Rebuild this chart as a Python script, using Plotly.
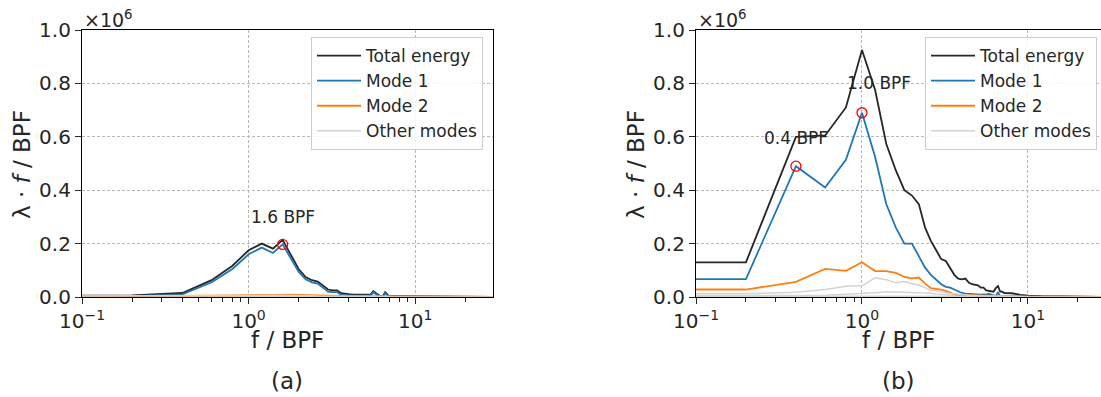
import plotly.graph_objects as go
import math

# ---------------- data (values in units of 1e6) ----------------
freq = [0.1, 0.2, 0.4, 0.6, 0.8, 1.0, 1.2, 1.4, 1.6, 1.8, 2.0, 2.2, 2.4, 2.6, 2.8,
        3.0, 3.2, 3.4, 3.6, 3.8, 4.0, 4.2, 4.4, 4.6, 4.8, 5.0, 5.2, 5.4, 5.6, 5.8,
        6.0, 6.2, 6.4, 6.6, 6.8, 7.0, 7.2, 8.0, 9.0, 10.0, 12.0, 15.0, 20.0, 30.0]

# panel (a)
a_total = [0.005, 0.006, 0.015, 0.063, 0.117, 0.175, 0.200, 0.181, 0.214, 0.154, 0.104, 0.075, 0.063, 0.058, 0.041,
           0.028, 0.025, 0.025, 0.014, 0.011, 0.011, 0.010, 0.010, 0.009, 0.009, 0.008, 0.008, 0.009, 0.022, 0.016,
           0.010, 0.002, 0.004, 0.018, 0.010, 0.001, 0.003, 0.003, 0.002, 0.002, 0.001, 0.001, 0.0005, 0.0003]
a_mode1 = [0.002, 0.003, 0.010, 0.055, 0.105, 0.160, 0.185, 0.165, 0.197, 0.140, 0.094, 0.066, 0.055, 0.050, 0.034,
           0.020, 0.018, 0.018, 0.008, 0.006, 0.006, 0.005, 0.005, 0.005, 0.004, 0.004, 0.004, 0.005, 0.017, 0.012,
           0.006, 0.000, 0.001, 0.014, 0.006, 0.000, 0.001, 0.001, 0.001, 0.001, 0.0005, 0.0003, 0.0002, 0.0001]
a_mode2 = [0.003, 0.003, 0.004, 0.005, 0.006, 0.007, 0.008, 0.009, 0.010, 0.009, 0.008, 0.007, 0.006, 0.005, 0.005,
           0.004, 0.004, 0.004, 0.003, 0.003, 0.003, 0.003, 0.003, 0.003, 0.003, 0.002, 0.002, 0.002, 0.002, 0.002,
           0.002, 0.002, 0.002, 0.002, 0.002, 0.002, 0.002, 0.001, 0.001, 0.001, 0.001, 0.001, 0.0005, 0.0003]
a_other1 = [0.004, 0.004, 0.004, 0.005, 0.005, 0.006, 0.006, 0.007, 0.007, 0.006, 0.006, 0.005, 0.005, 0.004, 0.004,
            0.004, 0.003, 0.003, 0.003, 0.003, 0.003, 0.002, 0.002, 0.002, 0.002, 0.002, 0.002, 0.002, 0.002, 0.002,
            0.002, 0.002, 0.002, 0.002, 0.002, 0.001, 0.001, 0.001, 0.001, 0.001, 0.001, 0.0005, 0.0003, 0.0002]
a_other2 = [0.002, 0.002, 0.002, 0.002, 0.003, 0.003, 0.003, 0.003, 0.004, 0.003, 0.003, 0.003, 0.003, 0.002, 0.002,
            0.002, 0.002, 0.002, 0.002, 0.002, 0.001, 0.001, 0.001, 0.001, 0.001, 0.001, 0.001, 0.001, 0.001, 0.001,
            0.001, 0.001, 0.001, 0.001, 0.001, 0.001, 0.001, 0.001, 0.0005, 0.0005, 0.0003, 0.0002, 0.0001, 0.0001]

# panel (b)
b_total = [0.130, 0.130, 0.600, 0.605, 0.710, 0.925, 0.775, 0.574, 0.474, 0.400, 0.380, 0.348, 0.260, 0.210, 0.175,
           0.142, 0.135, 0.110, 0.083, 0.069, 0.066, 0.069, 0.054, 0.048, 0.045, 0.044, 0.035, 0.035, 0.025, 0.023,
           0.023, 0.020, 0.033, 0.041, 0.020, 0.020, 0.015, 0.014, 0.008, 0.005, 0.003, 0.002, 0.001, 0.0003]
b_mode1 = [0.067, 0.067, 0.490, 0.410, 0.514, 0.690, 0.524, 0.348, 0.260, 0.200, 0.200, 0.155, 0.110, 0.083, 0.063,
           0.048, 0.038, 0.035, 0.028, 0.020, 0.015, 0.013, 0.012, 0.012, 0.010, 0.008, 0.009, 0.010, 0.009, 0.012,
           0.008, 0.006, 0.004, 0.018, 0.001, 0.004, 0.003, 0.003, 0.002, 0.002, 0.001, 0.001, 0.0005, 0.0002]
b_mode2 = [0.028, 0.028, 0.057, 0.105, 0.098, 0.130, 0.097, 0.097, 0.090, 0.075, 0.070, 0.073, 0.050, 0.033, 0.030,
           0.028, 0.023, 0.016, 0.010, 0.009, 0.008, 0.008, 0.007, 0.007, 0.006, 0.006, 0.005, 0.005, 0.005, 0.005,
           0.004, 0.004, 0.004, 0.004, 0.003, 0.003, 0.003, 0.003, 0.002, 0.002, 0.001, 0.001, 0.0005, 0.0002]
b_other1 = [0.012, 0.012, 0.018, 0.028, 0.040, 0.042, 0.072, 0.065, 0.053, 0.058, 0.050, 0.045, 0.035, 0.025, 0.022,
            0.020, 0.016, 0.013, 0.011, 0.010, 0.010, 0.008, 0.007, 0.006, 0.006, 0.005, 0.005, 0.005, 0.004, 0.004,
            0.004, 0.004, 0.003, 0.003, 0.003, 0.003, 0.003, 0.002, 0.002, 0.001, 0.001, 0.001, 0.0005, 0.0002]
b_other2 = [0.005, 0.005, 0.005, 0.007, 0.010, 0.012, 0.016, 0.020, 0.019, 0.019, 0.018, 0.016, 0.015, 0.014, 0.011,
            0.009, 0.008, 0.007, 0.006, 0.006, 0.005, 0.004, 0.004, 0.004, 0.003, 0.003, 0.003, 0.003, 0.003, 0.003,
            0.002, 0.002, 0.002, 0.002, 0.002, 0.002, 0.002, 0.002, 0.001, 0.001, 0.001, 0.0005, 0.0003, 0.0001]
b_other3 = [0.003, 0.003, 0.003, 0.003, 0.004, 0.004, 0.005, 0.005, 0.005, 0.005, 0.005, 0.004, 0.004, 0.004, 0.003,
            0.003, 0.003, 0.003, 0.002, 0.002, 0.002, 0.002, 0.002, 0.002, 0.002, 0.002, 0.002, 0.002, 0.001, 0.001,
            0.001, 0.001, 0.001, 0.001, 0.001, 0.001, 0.001, 0.001, 0.001, 0.0005, 0.0003, 0.0002, 0.0001, 0.0001]

a_peaks = [1.6]
b_peaks = [0.4, 1.0]

a_labels = [("1.6 BPF", 1.0, 0.30)]
b_labels = [("0.4 BPF", 0.25, 0.596), ("1.0 BPF", 0.79, 0.80)]

x_major = [0.1, 1.0, 10.0]
x_major_text = ["10<sup>−1</sup>", "10<sup>0</sup>", "10<sup>1</sup>"]
x_minor = [0.2, 0.3, 0.4, 0.5, 0.6, 0.7, 0.8, 0.9, 2, 3, 4, 5, 6, 7, 8, 9, 20, 30]
y_ticks = [0.0, 0.2, 0.4, 0.6, 0.8, 1.0]

x_title = "f / BPF"
y_title = "λ · <i>f</i> / BPF"
offset_text = "×10<sup>6</sup>"
panel_labels = ["(a)", "(b)"]

# ---------------- style ----------------
TXT = "#262626"
C_TOT = "#262626"
C_M1 = "#1f77b4"
C_M2 = "#ff7f0e"
C_OT = "#d3d3d3"
FONT = "DejaVu Sans"
W, H = 1101, 397

fig = go.Figure()


def add_panel(xa, ya, legend, total, mode1, mode2, others, peaks):
    for vals in others[1:]:
        fig.add_trace(go.Scatter(x=freq, y=vals, mode="lines", line=dict(color=C_OT, width=1.5),
                                 xaxis=xa, yaxis=ya, showlegend=False, hoverinfo="skip"))
    fig.add_trace(go.Scatter(x=freq, y=total, mode="lines", name="Total energy",
                             line=dict(color=C_TOT, width=1.8), xaxis=xa, yaxis=ya, legend=legend))
    fig.add_trace(go.Scatter(x=freq, y=mode1, mode="lines", name="Mode 1",
                             line=dict(color=C_M1, width=1.8), xaxis=xa, yaxis=ya, legend=legend))
    fig.add_trace(go.Scatter(x=freq, y=mode2, mode="lines", name="Mode 2",
                             line=dict(color=C_M2, width=1.8), xaxis=xa, yaxis=ya, legend=legend))
    fig.add_trace(go.Scatter(x=freq, y=others[0], mode="lines", name="Other modes",
                             line=dict(color=C_OT, width=1.5), xaxis=xa, yaxis=ya, legend=legend))
    px = [p for p in peaks]
    py = [mode1[freq.index(p)] for p in peaks]
    fig.add_trace(go.Scatter(x=px, y=py, mode="markers", showlegend=False,
                             marker=dict(symbol="circle-open", size=10, color="red", line=dict(width=1.3)),
                             xaxis=xa, yaxis=ya))


add_panel("x", "y", "legend", a_total, a_mode1, a_mode2, [a_other1, a_other2], a_peaks)
add_panel("x2", "y2", "legend2", b_total, b_mode1, b_mode2, [b_other1, b_other2, b_other3], b_peaks)

ydom = [100 / H, 367 / H]
GRID = dict(showgrid=True, gridcolor="#b8b8b8", griddash="3px,2px", gridwidth=1)


def xaxis_style(domain, rng, anchor):
    return dict(domain=domain, type="log", range=rng, tickmode="array",
                tickvals=x_major, ticktext=x_major_text, automargin=False,
                showline=True, linecolor="black", linewidth=1.2, mirror=True,
                ticks="outside", ticklen=6, tickwidth=1.2, tickcolor=TXT,
                minor=dict(tickmode="array", tickvals=x_minor, ticks="outside", ticklen=3.5,
                           tickwidth=1, tickcolor=TXT, showgrid=False),
                zeroline=False, tickfont=dict(size=20, color=TXT, family=FONT),
                anchor=anchor, **GRID)


def yaxis_style(anchor):
    return dict(domain=ydom, range=[0, 1.0], tickmode="array", tickvals=y_ticks, tickformat=".1f",
                automargin=False,
                showline=True, linecolor="black", linewidth=1.2, mirror=True,
                ticks="outside", ticklen=6, tickwidth=1.2, tickcolor=TXT,
                zeroline=False, tickfont=dict(size=20, color=TXT, family=FONT),
                anchor=anchor, **GRID)


legend_style = dict(font=dict(size=17, color=TXT, family=FONT), bgcolor="rgba(255,255,255,0.85)",
                    bordercolor="#cccccc", borderwidth=1, xanchor="left", yanchor="top",
                    tracegroupgap=0, itemwidth=44)

fig.update_layout(
    width=W, height=H, margin=dict(l=0, r=0, t=0, b=0, autoexpand=False),
    paper_bgcolor="white", plot_bgcolor="white",
    font=dict(family=FONT, color=TXT),
    xaxis=xaxis_style([82 / W, 493 / W], [-1, 1.467], "y"),
    yaxis=yaxis_style("x"),
    xaxis2=xaxis_style([696 / W, 1.0], [-1, 1.44], "y2"),
    yaxis2=yaxis_style("x2"),
    legend=dict(x=311 / W, y=1 - 37 / H, **legend_style),
    legend2=dict(x=925 / W, y=1 - 37 / H, **legend_style),
)

annos = []
for xa, ya, labels in (("x", "y", a_labels), ("x2", "y2", b_labels)):
    for text, fx, fy in labels:
        annos.append(dict(text=text, x=math.log10(fx), y=fy, xref=xa, yref=ya, xanchor="left",
                          yanchor="middle", showarrow=False, font=dict(size=17, color=TXT, family=FONT)))
# offset text, axis titles and panel labels
for x0, lab, cx, ytx in ((82, panel_labels[0], 287, 22), (696, panel_labels[1], 898, 636)):
    annos.append(dict(text=offset_text, x=x0 / W, y=1 - 19 / H, xref="paper", yref="paper",
                      xanchor="left", yanchor="middle", showarrow=False,
                      font=dict(size=19, color=TXT, family=FONT)))
    annos.append(dict(text=x_title, x=cx / W, y=1 - 340 / H, xref="paper", yref="paper",
                      xanchor="center", yanchor="middle", showarrow=False,
                      font=dict(size=23, color=TXT, family=FONT)))
    annos.append(dict(text=y_title, x=ytx / W, y=1 - 165 / H, xref="paper", yref="paper",
                      xanchor="center", yanchor="middle", showarrow=False, textangle=-90,
                      font=dict(size=23, color=TXT, family=FONT)))
    annos.append(dict(text=lab, x=cx / W, y=1 - 381 / H, xref="paper", yref="paper",
                      xanchor="center", yanchor="middle", showarrow=False,
                      font=dict(size=23, color=TXT, family=FONT)))
fig.update_layout(annotations=annos)

fig.write_html("out.html")
